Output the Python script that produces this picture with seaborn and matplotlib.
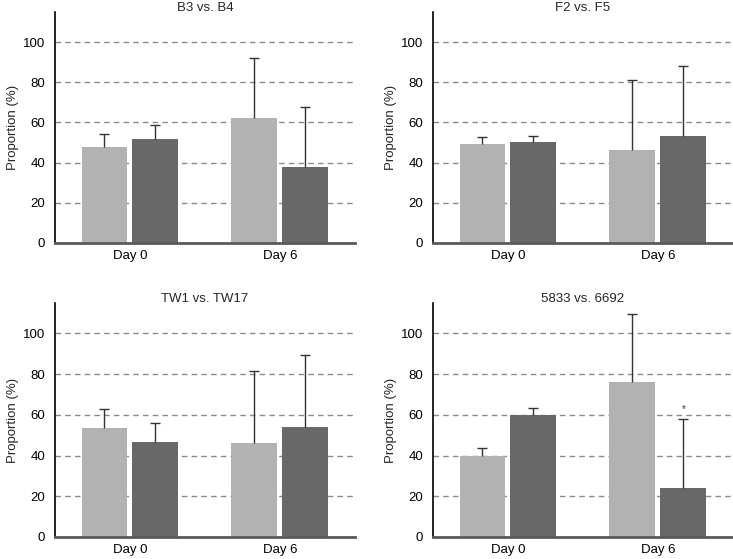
import numpy as np
import pandas as pd
import matplotlib
matplotlib.use("Agg")
import matplotlib.pyplot as plt
import seaborn as sns

# Data
days = ["Day 0", "Day 6"]
titles = ["B3 vs. B4", "F2 vs. F5", "TW1 vs. TW17", "5833 vs. 6692"]

# mean proportion (%) for first / second strain at each day
first_mean = [[48, 62], [49.5, 46.5], [53.5, 46], [40, 76]]
second_mean = [[52, 38], [50.5, 53.5], [46.5, 54], [60, 24]]
# top of error bar (%)
first_top = [[54.5, 92], [53, 81], [63, 81.5], [43.5, 109.5]]
second_top = [[58.5, 67.5], [53.5, 88], [56, 89.5], [63.5, 58]]

sns.set_style("white")
plt.rcParams["font.family"] = ["Liberation Sans", "DejaVu Sans"]

colors = ["#b2b2b2", "#686868"]

fig = plt.figure(figsize=(7.33, 5.59), dpi=100)
positions = [
    [0.075, 0.5653, 0.409, 0.4133],
    [0.5907, 0.5653, 0.409, 0.4133],
    [0.075, 0.0394, 0.409, 0.4186],
    [0.5907, 0.0394, 0.409, 0.4186],
]

for i, title in enumerate(titles):
    ax = fig.add_axes(positions[i])
    df = pd.DataFrame({
        "Day": days + days,
        "Strain": ["A", "A", "B", "B"],
        "Proportion": first_mean[i] + second_mean[i],
    })
    sns.barplot(data=df, x="Day", y="Proportion", hue="Strain",
                palette=colors, width=0.68, gap=0.1, errorbar=None,
                edgecolor="none", legend=False, ax=ax, zorder=2)

    # upper-only error bars placed on the seaborn bars
    tops = first_top[i] + second_top[i]
    means = first_mean[i] + second_mean[i]
    bars = ax.patches[:4]
    xs = [b.get_x() + b.get_width() / 2 for b in bars]
    up = np.array(tops) - np.array(means)
    _, caps, _ = ax.errorbar(xs, means, yerr=[np.zeros(4), up], fmt="none",
                             ecolor="#333333", elinewidth=1, capsize=3.5,
                             capthick=1, zorder=3)
    caps[0].set_visible(False)

    if title == "5833 vs. 6692":
        ax.text(xs[3], second_top[i][1] + 2.5, "*", ha="center", va="bottom",
                fontsize=7, color="#333333")

    ax.set_xlim(-0.5, 1.5)
    ax.set_ylim(0, 115)
    ax.set_yticks([0, 20, 40, 60, 80, 100])
    ax.yaxis.grid(True, linestyle=(0, (4, 3)), color="#8a8a8a", linewidth=1)
    ax.set_axisbelow(True)
    ax.tick_params(axis="y", length=0, labelsize=9.5, colors="black", pad=7)
    ax.tick_params(axis="x", length=0, labelsize=9.5, colors="black", pad=5)
    ax.set_xlabel("")
    ax.set_ylabel("Proportion (%)", fontsize=9.5, labelpad=3)
    ax.set_title(title, fontsize=9.5, pad=1)

    sns.despine(ax=ax)
    ax.spines["left"].set_color("black")
    ax.spines["left"].set_linewidth(1.2)
    ax.spines["bottom"].set_color("#5a5a5a")
    ax.spines["bottom"].set_linewidth(2)

fig.savefig("out.png", dpi=100)
plt.close(fig)
